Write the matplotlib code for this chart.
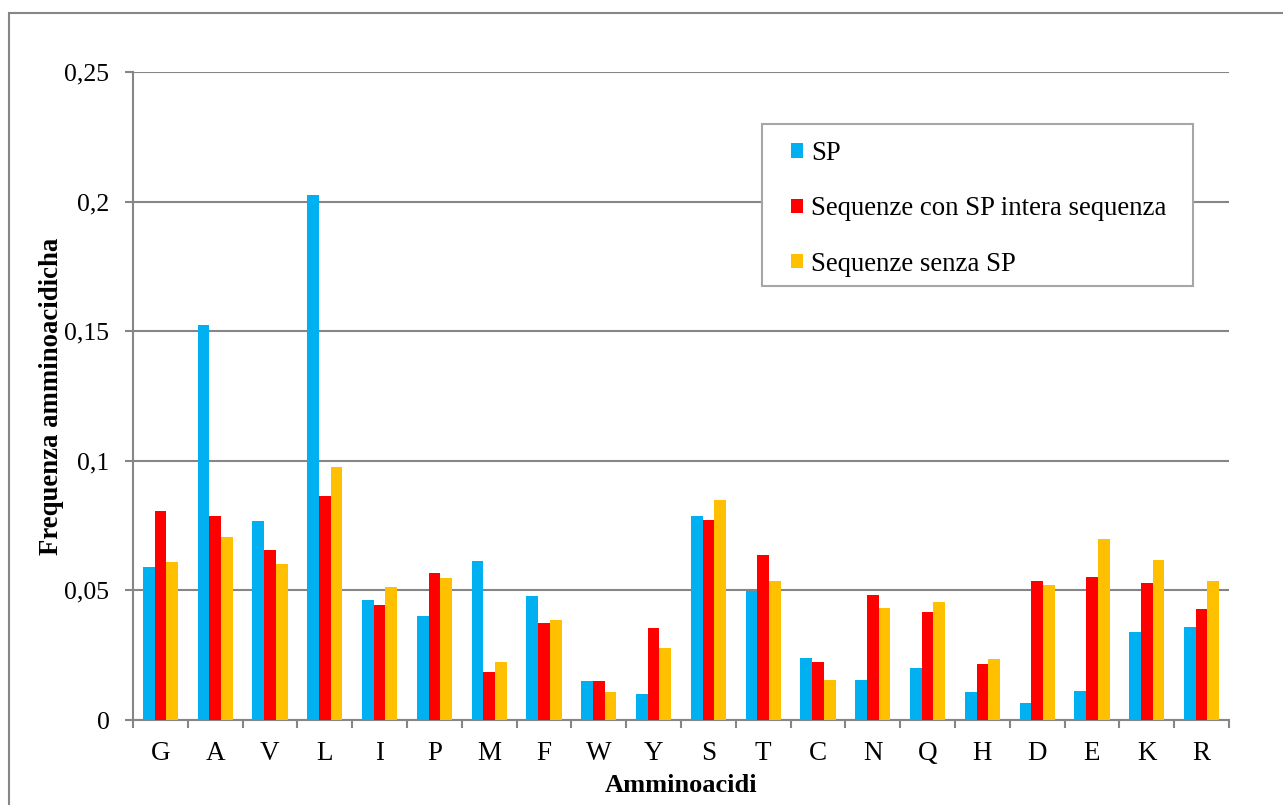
import numpy as np
import matplotlib
matplotlib.use('Agg')
import matplotlib.pyplot as plt
from matplotlib.ticker import FuncFormatter, MultipleLocator
from matplotlib.patches import Rectangle

# data
amino = ['G', 'A', 'V', 'L', 'I', 'P', 'M', 'F', 'W', 'Y',
         'S', 'T', 'C', 'N', 'Q', 'H', 'D', 'E', 'K', 'R']
sp = [0.0589, 0.1524, 0.0766, 0.2027, 0.0462, 0.0400, 0.0615, 0.0478, 0.0149, 0.0100,
      0.0787, 0.0496, 0.0239, 0.0154, 0.0199, 0.0108, 0.0067, 0.0112, 0.0340, 0.0359]
con_sp = [0.0808, 0.0787, 0.0656, 0.0866, 0.0445, 0.0566, 0.0187, 0.0376, 0.0149, 0.0355,
          0.0772, 0.0637, 0.0224, 0.0482, 0.0417, 0.0216, 0.0536, 0.0553, 0.0529, 0.0429]
senza_sp = [0.0611, 0.0705, 0.0602, 0.0976, 0.0512, 0.0548, 0.0224, 0.0386, 0.0108, 0.0278,
            0.0849, 0.0536, 0.0154, 0.0433, 0.0455, 0.0235, 0.0521, 0.0697, 0.0618, 0.0536]

labels = ['SP', 'Sequenze con SP intera sequenza', 'Sequenze senza SP']
colors = ['#00B0F0', '#FF0000', '#FFC000']

plt.rcParams['font.family'] = ['Liberation Serif', 'DejaVu Serif']
grey = '#868686'
W, H = 1283, 805

fig = plt.figure(figsize=(12.83, 8.05), dpi=100)
ax = fig.add_axes([133/W, 1 - 720/H, (1229-133)/W, (720-72)/H])

x = np.arange(len(amino))
w = 0.215
for i, (vals, lab, col) in enumerate(zip([sp, con_sp, senza_sp], labels, colors)):
    ax.bar(x + (i - 1) * w, vals, width=w, color=col, label=lab, zorder=3)

ax.set_xlim(-0.5, len(amino) - 0.5)
ax.set_ylim(0, 0.25)
ax.yaxis.set_major_locator(MultipleLocator(0.05))
ax.yaxis.set_major_formatter(FuncFormatter(lambda v, p: ('%g' % round(v, 3)).replace('.', ',')))
ax.yaxis.grid(True, color=grey, linewidth=1.5, zorder=0)

ax.set_xticks(x)
ax.set_xticklabels(amino)
ax.set_xticks(np.arange(-0.5, len(amino)), minor=True)
ax.tick_params(axis='x', which='major', length=0, pad=15, labelsize=19.5)
ax.tick_params(axis='x', which='minor', length=6, width=1.5, color=grey, direction='out')
ax.tick_params(axis='y', length=6, width=1.5, color=grey, direction='out', pad=11, labelsize=18.5)

for s in ['top', 'right']:
    ax.spines[s].set_visible(False)
for s in ['left', 'bottom']:
    ax.spines[s].set_color(grey)
    ax.spines[s].set_linewidth(1.5)

ax.set_xlabel('Amminoacidi', fontsize=19, fontweight='bold', labelpad=6)
ax.set_ylabel('Frequenza amminoacidicha', fontsize=19.3, fontweight='bold', labelpad=0)

# legend box drawn separately, entries placed inside it
ax.add_patch(Rectangle((762/W, 1 - 286/H), (1193-762)/W, (286-124)/H,
                       transform=fig.transFigure, facecolor='white', clip_on=False,
                       edgecolor='#A6A6A6', linewidth=1.5, zorder=5))
leg = ax.legend(loc='upper left', bbox_to_anchor=(791/W, 1 - 141/H),
                bbox_transform=fig.transFigure, fontsize=19.3, frameon=False,
                handlelength=0.45, handleheight=0.45, handletextpad=0.3,
                labelspacing=1.13, borderpad=0, borderaxespad=0)
leg.set_zorder(6)

# outer chart border
fig.patches.append(Rectangle((9/W, -0.1), 1.2, 1 - 13/H + 0.1, transform=fig.transFigure,
                             fill=False, edgecolor=grey, linewidth=1.5))

fig.savefig('out.png', dpi=100)
